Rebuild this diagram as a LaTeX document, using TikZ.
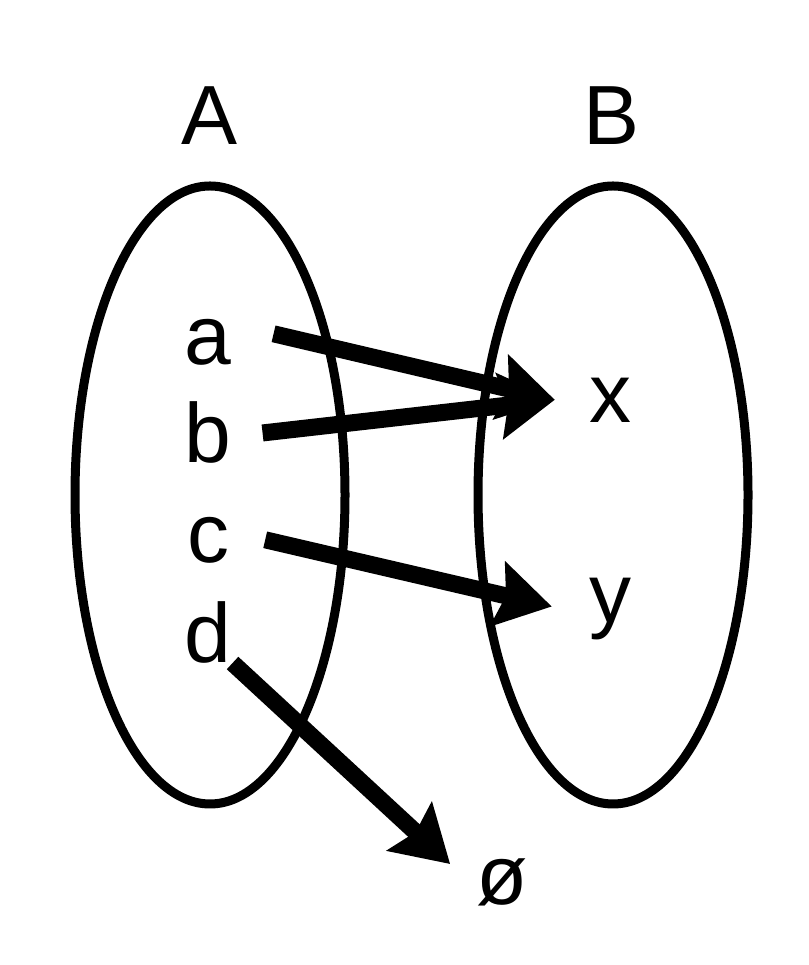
\documentclass[tikz,border=0pt]{standalone}
\usepackage{fontspec}
\setmainfont{Liberation Sans}
\usetikzlibrary{arrows.meta}
\tikzset{
  set/.style={line width=9pt, black},
  elem/.style={inner sep=0pt, anchor=base, font=\fontsize{84}{100}\selectfont},
  maps/.style={line width=17pt, -{Stealth[length=55pt,width=65pt,inset=8pt]}},
}

\begin{document}
\begin{tikzpicture}[x=1pt,y=1pt]
 \useasboundingbox (0,0) rectangle (808,965);
 % the two sets
 \draw[set] (210,470) ellipse [x radius=135pt, y radius=309pt];
 \draw[set] (613,470) ellipse [x radius=135pt, y radius=309pt];
 \node[elem] (A) at (210,820) {A};
 \node[elem] (B) at (612,820) {B};
 % elements
 \node[elem] (a) at (208,600) {a};
 \node[elem] (b) at (208,502) {b};
 \node[elem] (c) at (208,402) {c};
 \node[elem] (d) at (208,302) {d};
 \node[elem] (x) at (610,542) {x};
 \node[elem] (y) at (610,342) {y};
 \node[elem] (none) at (502,60) {ø};
 % the map
 \draw[maps] ([shift={(42,9)}]a.east) -- ([shift={(-34,1)}]x.west);
 \draw[maps] ([shift={(31,0)}]b.east) -- ([shift={(-34,1)}]x.west);
 \draw[maps] ([shift={(36,1)}]c.east) -- ([shift={(-37,3)}]y.west);
 \draw[maps] ([shift={(1,1)}]d.south east) -- ([shift={(-26,-5)}]none.north west);
\end{tikzpicture}
\end{document}
